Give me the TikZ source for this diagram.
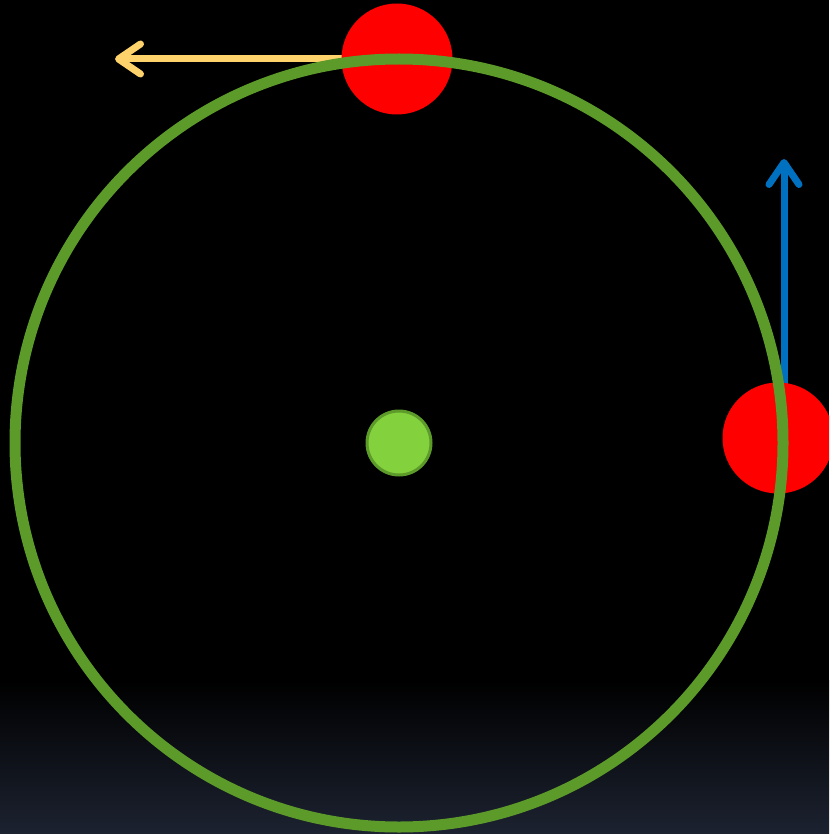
\documentclass[tikz,border=0pt]{standalone}
\usetikzlibrary{arrows.meta}
\definecolor{orbitgreen}{HTML}{5C9A2A}
\definecolor{sungreen}{HTML}{84D13E}
\definecolor{ballred}{HTML}{FF0000}
\definecolor{velyellow}{HTML}{FFD36B}
\definecolor{velblue}{HTML}{0070C0}
\definecolor{bgnavy}{HTML}{1C2230}
\begin{document}
\begin{tikzpicture}[x=1pt,y=-1pt,
  ball/.style={circle,fill=ballred,minimum size=111pt,inner sep=0pt},
  velocity/.style={line width=7pt,-{Straight Barb[length=22pt,width=30pt,round]}}]
\clip (0,0) rectangle (829,834);
\fill[black] (0,0) rectangle (829,681);
\shade[top color=black,bottom color=bgnavy] (0,680) rectangle (829,834);
\coordinate (topc) at (397,59);
\coordinate (rightc) at (778,438);
\coordinate (yellowtip) at (115,59);
\coordinate (bluetip) at (784,159);
\draw[velocity,velyellow] (topc) -- (yellowtip);
\draw[velocity,velblue] (784,438) -- (bluetip);
\node[ball] (topball) at (topc) {};
\node[ball] (rightball) at (rightc) {};
\node[circle,fill=sungreen,draw=orbitgreen,line width=3pt,minimum size=64pt,inner sep=0pt] (sun) at (399,443) {};
\draw[orbitgreen,line width=11pt] (sun.center) circle[radius=384];
\end{tikzpicture}
\end{document}
